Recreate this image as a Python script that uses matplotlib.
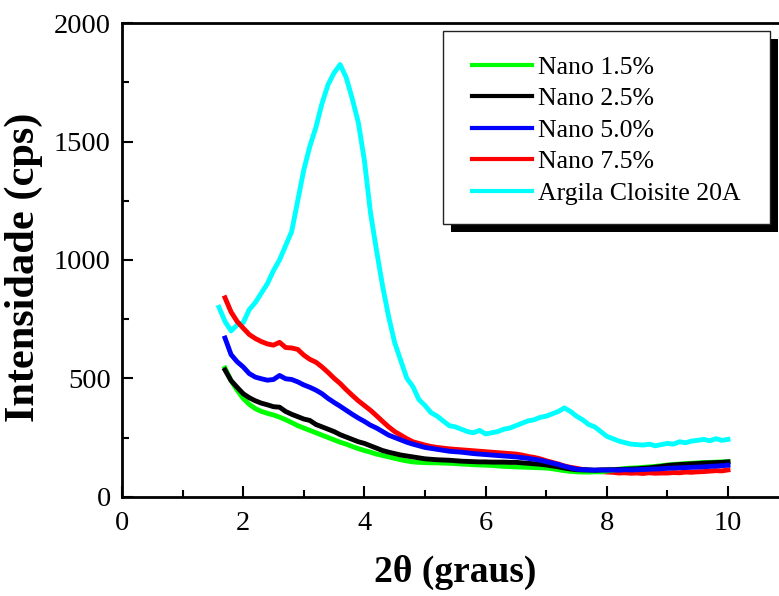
import matplotlib
matplotlib.use("Agg")
import matplotlib.pyplot as plt
from matplotlib.patches import Rectangle
from matplotlib.ticker import MultipleLocator

plt.rcParams['font.family'] = ['Liberation Serif', 'DejaVu Serif']

two_theta = [1.6, 1.7, 1.8, 1.9, 2.0, 2.1, 2.2, 2.3, 2.4, 2.5, 2.6, 2.7, 2.8, 2.9,
             3.0, 3.1, 3.2, 3.3, 3.4, 3.5, 3.6, 3.7, 3.8, 3.9, 4.0, 4.1, 4.2, 4.3,
             4.4, 4.5, 4.6, 4.7, 4.8, 4.9, 5.0, 5.1, 5.2, 5.3, 5.4, 5.5, 5.6, 5.7,
             5.8, 5.9, 6.0, 6.1, 6.2, 6.3, 6.4, 6.5, 6.6, 6.7, 6.8, 6.9, 7.0, 7.1,
             7.2, 7.3, 7.4, 7.5, 7.6, 7.7, 7.8, 7.9, 8.0, 8.1, 8.2, 8.3, 8.4, 8.5,
             8.6, 8.7, 8.8, 8.9, 9.0, 9.1, 9.2, 9.3, 9.4, 9.5, 9.6, 9.7, 9.8, 9.9, 10.0]

argila = [800, 740, 700, 725, 735, 790, 820, 860, 900, 955, 1000, 1060, 1120, 1250,
          1380, 1480, 1560, 1660, 1740, 1790, 1825, 1770, 1680, 1580, 1420, 1200, 1040, 890,
          760, 650, 575, 500, 465, 410, 385, 355, 340, 320, 300, 295, 285, 275,
          270, 280, 265, 270, 275, 285, 290, 300, 310, 320, 325, 335, 340, 350,
          360, 375, 360, 340, 325, 305, 295, 275, 255, 245, 235, 228, 222, 220,
          218, 222, 215, 220, 225, 222, 232, 228, 235, 238, 242, 236, 245, 238, 242]

nano75 = [840, 780, 740, 712, 685, 668, 655, 645, 640, 652, 630, 628, 622,
          598, 580, 568, 548, 525, 500, 478, 452, 428, 405, 385, 365, 342, 318,
          295, 275, 260, 245, 232, 225, 218, 212, 208, 205, 202, 200, 198, 196,
          194, 192, 190, 188, 186, 184, 182, 180, 176, 170, 166, 160, 152, 145,
          138, 130, 124, 120, 115, 112, 108, 106, 104, 103, 100, 101, 99, 100,
          98, 101, 99, 100, 100, 102, 101, 104, 103, 105, 106, 108, 110, 109, 113]

nano50 = [670, 600, 570, 548, 520, 505, 498, 492, 495, 512, 498, 495, 485,
          472, 462, 450, 435, 415, 398, 382, 365, 348, 332, 318, 302, 290, 275,
          260, 250, 240, 230, 222, 215, 208, 204, 200, 196, 192, 190, 188, 185,
          182, 180, 178, 176, 174, 172, 170, 168, 165, 162, 158, 154, 148, 142,
          136, 128, 122, 116, 114, 113, 112, 113, 112, 113, 112, 114, 113, 114,
          115, 116, 117, 118, 120, 121, 122, 123, 124, 125, 126, 128, 129, 131, 133]

nano25 = [535, 490, 462, 435, 418, 405, 395, 388, 380, 378, 360, 348, 338,
          328, 322, 305, 295, 285, 275, 262, 252, 242, 232, 225, 215, 205, 195,
          188, 182, 176, 172, 168, 164, 160, 158, 156, 155, 154, 152, 150, 149,
          148, 147, 147, 146, 146, 146, 145, 145, 143, 141, 139, 137, 134, 130,
          126, 121, 117, 114, 113, 113, 112, 113, 114, 114, 115, 116, 117, 118,
          120, 122, 125, 128, 132, 134, 136, 137, 139, 140, 142, 143, 144, 145, 147]

nano15 = [543, 490, 450, 415, 390, 372, 360, 352, 345, 336, 325, 313, 300,
          290, 280, 270, 260, 250, 240, 230, 222, 212, 203, 195, 188, 180, 174,
          168, 162, 156, 151, 147, 145, 144, 143, 143, 142, 141, 140, 138, 137,
          135, 134, 133, 132, 130, 128, 127, 126, 125, 124, 123, 122, 121, 118,
          114, 110, 107, 105, 104, 104, 105, 105, 108, 112, 116, 119, 121, 122,
          124, 126, 128, 131, 134, 136, 138, 140, 141, 143, 144, 145, 146, 147, 148]

labels = ['Nano 1.5%', 'Nano 2.5%', 'Nano 5.0%', 'Nano 7.5%', 'Argila Cloisite 20A']
colors = ['#00FF00', '#000000', '#0000FF', '#FF0000', '#00FFFF']

W, H = 779, 596
fig = plt.figure(figsize=(W / 100, H / 100), dpi=100)
x0, x1 = 122, 788.6
y0, y1 = 496.7, 23.1
ax = fig.add_axes([x0 / W, 1 - y0 / H, (x1 - x0) / W, (y0 - y1) / H])

lw = 3.5
xs = two_theta[1:]
h_cy, = ax.plot(two_theta, argila, color=colors[4], lw=lw, zorder=2)
h_r, = ax.plot(xs, nano75, color=colors[3], lw=lw, zorder=3)
h_g, = ax.plot(xs, nano15, color=colors[0], lw=lw, zorder=4)
h_k, = ax.plot(xs, nano25, color=colors[1], lw=lw, zorder=5)
h_b, = ax.plot(xs, nano50, color=colors[2], lw=lw, zorder=6)

ax.set_xlim(0, 11)
ax.set_ylim(0, 2000)
ax.xaxis.set_major_locator(MultipleLocator(2))
ax.xaxis.set_minor_locator(MultipleLocator(1))
ax.yaxis.set_major_locator(MultipleLocator(500))
ax.yaxis.set_minor_locator(MultipleLocator(250))
ax.tick_params(which='both', direction='in', top=False, right=False, width=1.5)
ax.tick_params(which='major', length=8, labelsize=20.5)
ax.tick_params(which='minor', length=5)
ax.tick_params(axis='x', pad=10)
ax.tick_params(axis='y', pad=8)
for s in ax.spines.values():
    s.set_linewidth(2)

ax.set_xlabel('2θ (graus)', fontsize=27, fontweight='bold', labelpad=14)
ax.set_ylabel('Intensidade (cps)', fontsize=30.5, fontweight='bold', labelpad=5)
ax.yaxis.set_label_coords(-0.1185, 0.485)

# legend frame with black shadow
def fig_rect(px0, py0, px1, py1, **kw):
    return Rectangle((px0 / W, 1 - py1 / H), (px1 - px0) / W, (py1 - py0) / H,
                     transform=fig.transFigure, **kw)

fig.add_artist(fig_rect(451, 39, 778, 232, facecolor='black', edgecolor='none', zorder=10))
fig.add_artist(fig_rect(443, 31, 770, 224, facecolor='white', edgecolor='#222222',
                        lw=1.0, zorder=11))

leg = fig.legend([h_g, h_k, h_b, h_r, h_cy], labels, loc='upper left',
                 bbox_to_anchor=(472 / W, 1 - 56 / H), bbox_transform=fig.transFigure,
                 frameon=False, fontsize=18.5, handlelength=2.35, handletextpad=0.2,
                 labelspacing=0.33, borderpad=0, borderaxespad=0)
leg.set_zorder(12)
for line in leg.get_lines():
    line.set_linewidth(3)

fig.savefig('out.png', dpi=100)
